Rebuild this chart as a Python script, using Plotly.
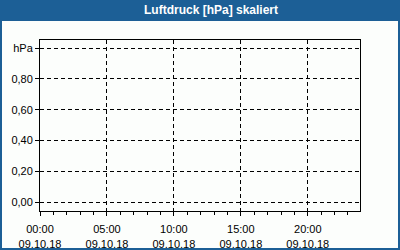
import plotly.graph_objects as go

# --- data (chart shows no measurements) ---
title_text = "Luftdruck [hPa] skaliert"
series_hours = []        # no data points visible
series_values = []
x_tick_hours = [0, 5, 10, 15, 20]
x_tick_labels = ["00:00<br>09.10.18", "05:00<br>09.10.18", "10:00<br>09.10.18",
                 "15:00<br>09.10.18", "20:00<br>09.10.18"]
y_tick_values = [0.0, 0.2, 0.4, 0.6, 0.8, 1.0]
y_tick_labels = ["0,00", "0,20", "0,40", "0,60", "0,80", "hPa"]

W, H = 400, 250
L, R, T, B = 40, 40, 40, 39
pw, ph = W - L - R, H - T - B

def px_x(px):
    return (px - L) / pw

def px_y(py):
    return (H - B - py) / ph

blue = "#1c5f96"
bg = "#fcfefc"
font = "Liberation Sans"

fig = go.Figure()
fig.add_trace(go.Scatter(x=series_hours, y=series_values, mode="lines",
                         line=dict(color=blue, width=1), showlegend=False))

fig.update_layout(
    width=W, height=H,
    margin=dict(l=L, r=R, t=T, b=B, pad=0, autoexpand=False),
    paper_bgcolor=bg, plot_bgcolor=bg,
    font=dict(family=font, size=11, color="#000000"),
    showlegend=False,
)
fig.update_xaxes(
    range=[0, 23.9], tickvals=x_tick_hours, ticktext=x_tick_labels,
    showline=True, mirror=True, linecolor="#000000", linewidth=1,
    showgrid=True, gridcolor="#000000", gridwidth=1, griddash="4px,3px",
    ticks="outside", ticklen=4, tickcolor="#000000", ticklabelstandoff=4,
    minor=dict(ticks="outside", dtick=1, tick0=0, ticklen=3, tickcolor="#000000", showgrid=False),
    zeroline=False, fixedrange=True, automargin=False,
)
fig.update_yaxes(
    range=[-0.056, 1.052], tickvals=y_tick_values, ticktext=y_tick_labels,
    showline=True, mirror=True, linecolor="#000000", linewidth=1,
    showgrid=True, gridcolor="#000000", gridwidth=1, griddash="4px,3px",
    ticks="outside", ticklen=4, tickcolor="#000000",
    zeroline=False, fixedrange=True, automargin=False,
)

# title bar
fig.add_shape(type="rect", xref="paper", yref="paper",
              x0=px_x(0), x1=px_x(W), y0=px_y(21), y1=px_y(0),
              fillcolor=blue, line=dict(width=0), layer="above")
# outer border
fig.add_shape(type="rect", xref="paper", yref="paper",
              x0=px_x(1), x1=px_x(W - 1), y0=px_y(H - 1), y1=px_y(10),
              fillcolor="rgba(0,0,0,0)", line=dict(color=blue, width=2), layer="above")
fig.add_annotation(text="<b>" + title_text + "</b>", xref="paper", yref="paper",
                   x=px_x(211), y=px_y(10.5), xanchor="center", yanchor="middle",
                   showarrow=False, font=dict(family=font, size=12, color="#ffffff"))

fig.write_html("out.html")
